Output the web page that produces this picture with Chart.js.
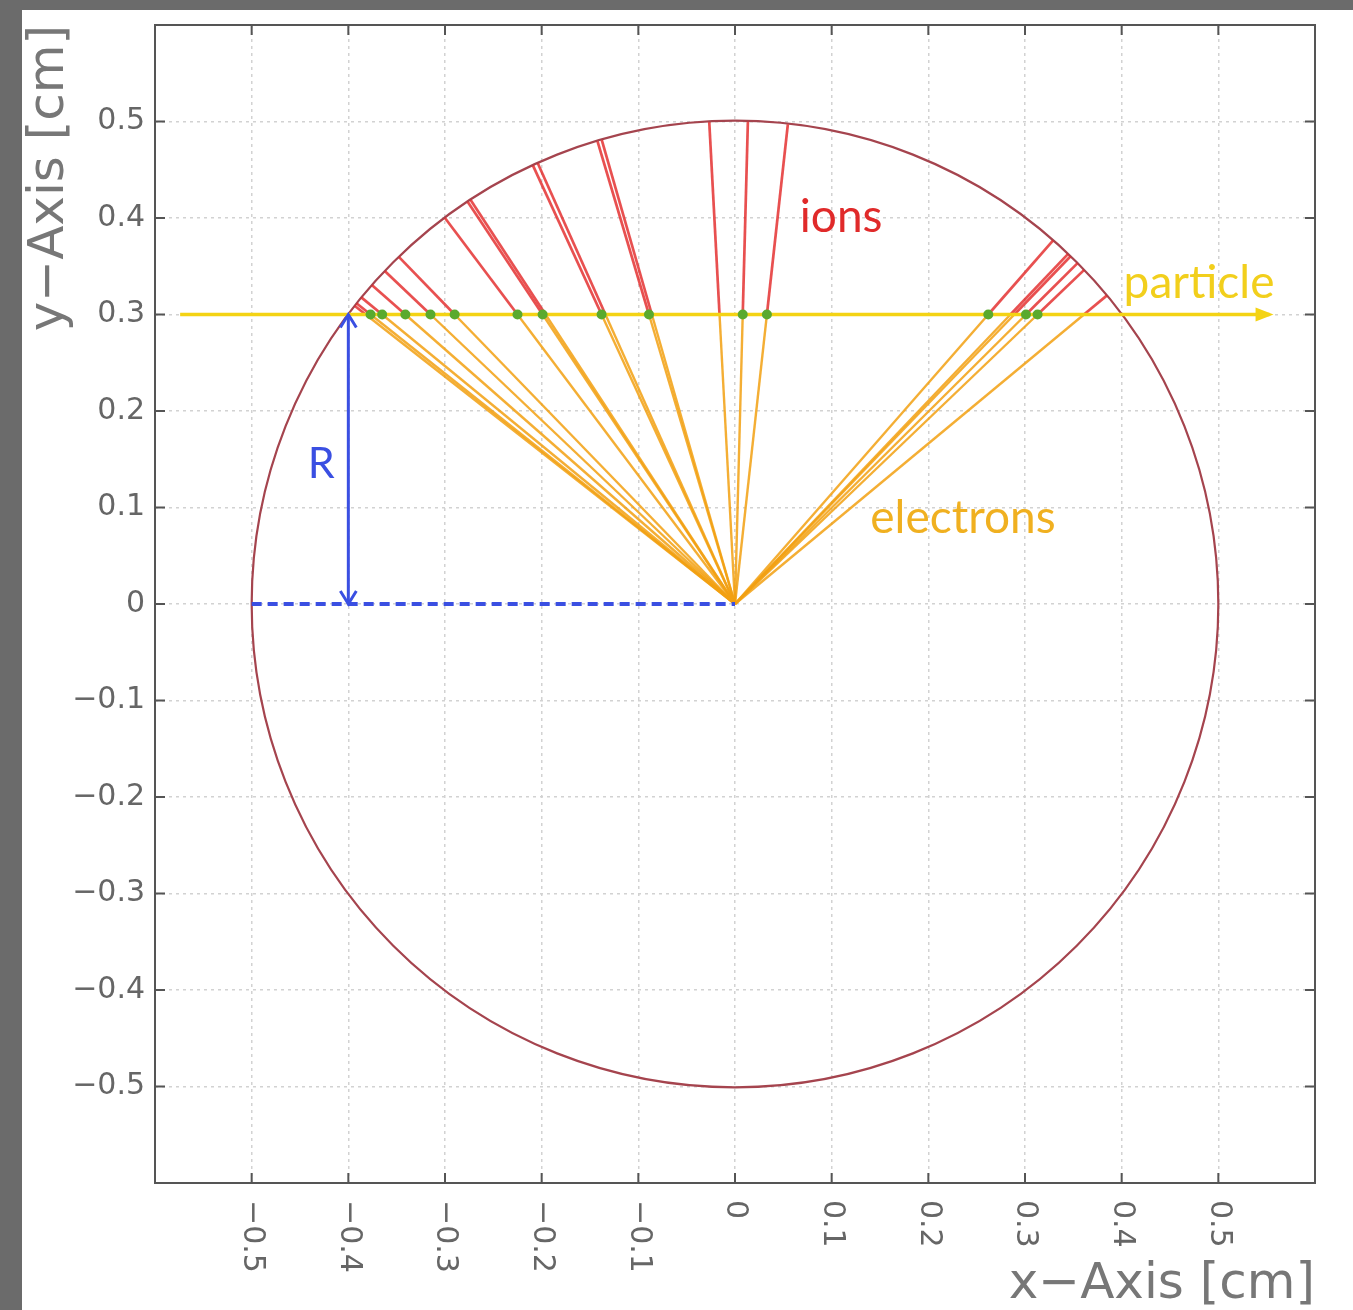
<!DOCTYPE html>
<html>
<head>
<meta charset="utf-8">
<script src="https://cdn.jsdelivr.net/npm/chart.js@4.4.1/dist/chart.umd.min.js"></script>
<style>
  html, body { margin: 0; padding: 0; background: #6b6b6b; }
  #card { position: absolute; left: 22px; top: 10px; width: 1331px; height: 1300px; background: #fff; }
</style>
</head>
<body>
<div id="card"><canvas id="drift" width="1331" height="1300"></canvas></div>
<script>
// hits along the track (x in cm), every hit sends one electron to the centre and one ion to the wall
const hitX = [-0.382, -0.377, -0.365, -0.341, -0.315, -0.290, -0.225, -0.199, -0.196,
              -0.138, -0.134, -0.089, -0.086, -0.016, 0.008, 0.033,
              0.262, 0.285, 0.289, 0.301, 0.313, 0.361];
// clusters marked with a dot
const dotX = [-0.377, -0.365, -0.341, -0.315, -0.290, -0.225, -0.199, -0.138, -0.089,
              0.008, 0.033, 0.262, 0.301, 0.313];
const trackY = 0.3;
const trackX = [-0.574, 0.553];
const wallR = 0.5;          // tube radius [cm]
const rArrowX = -0.4;       // where R is measured
const tickValues = [-0.5, -0.4, -0.3, -0.2, -0.1, 0, 0.1, 0.2, 0.3, 0.4, 0.5];
const tickLabels = ['−0.5', '−0.4', '−0.3', '−0.2', '−0.1', '0', '0.1', '0.2', '0.3', '0.4', '0.5'];

const cElectron = 'rgba(242,160,16,0.85)';
const cIon = 'rgba(226,36,36,0.8)';
const cTrack = '#f4d314';
const cBlue = '#3a4fe2';

const datasets = [];
hitX.forEach(x => {
  datasets.push({ data: [{ x: 0, y: 0 }, { x: x, y: trackY }], borderColor: cElectron,
    borderWidth: 2.4, showLine: true, pointRadius: 0, order: 5 });
  const r = Math.hypot(x, trackY);
  datasets.push({ data: [{ x: x, y: trackY }, { x: x * wallR / r, y: trackY * wallR / r }],
    borderColor: cIon, borderWidth: 2.7, showLine: true, pointRadius: 0, order: 4 });
});
datasets.push({ data: trackX.map(x => ({ x: x, y: trackY })), borderColor: cTrack,
  borderWidth: 3.5, showLine: true, pointRadius: 0, order: 3 });
datasets.push({ data: dotX.map(x => ({ x: x, y: trackY })), backgroundColor: '#5aaa2e',
  borderWidth: 0, pointRadius: 5, showLine: false, order: 1 });
datasets.push({ data: [{ x: -wallR, y: 0 }, { x: 0, y: 0 }], borderColor: cBlue, borderWidth: 4,
  borderDash: [10, 6], showLine: true, pointRadius: 0, order: 2 });
datasets.push({ data: [{ x: rArrowX, y: 0 }, { x: rArrowX, y: trackY }], borderColor: cBlue,
  borderWidth: 3, showLine: true, pointRadius: 0, order: 2 });

function fmt(v) {
  if (Math.abs(v) > 0.55) return '';
  if (Math.abs(v) < 1e-9) return '0';
  return (v < 0 ? '−' : '') + Math.abs(v).toFixed(1);
}

function arrowHead(ctx, x, y, ang, len, wid, fill) {
  ctx.save();
  ctx.translate(x, y);
  ctx.rotate(ang);
  ctx.beginPath();
  ctx.moveTo(-len, -wid);
  ctx.lineTo(0, 0);
  ctx.lineTo(-len, wid);
  if (fill) { ctx.closePath(); ctx.fill(); } else { ctx.stroke(); }
  ctx.restore();
}

const tubePlugin = {
  id: 'tube',
  beforeDatasetsDraw(chart) {
    const { ctx, chartArea: a, scales: { x, y } } = chart;
    const cx = x.getPixelForValue(0), cy = y.getPixelForValue(0);
    const rad = x.getPixelForValue(wallR) - cx;
    ctx.save();
    ctx.beginPath();
    ctx.rect(a.left, a.top, a.right - a.left, a.bottom - a.top);
    ctx.clip();
    ctx.strokeStyle = '#a5444e';
    ctx.lineWidth = 2.2;
    ctx.beginPath();
    ctx.arc(cx, cy, rad, 0, Math.PI * 2);
    ctx.stroke();
    ctx.restore();
  },
  afterDatasetsDraw(chart) {
    const { ctx, scales: { x, y } } = chart;
    // particle direction
    ctx.save();
    ctx.fillStyle = cTrack;
    arrowHead(ctx, x.getPixelForValue(trackX[1]) + 4, y.getPixelForValue(trackY), 0, 18, 7, true);
    // R arrow, both ends
    ctx.strokeStyle = cBlue;
    ctx.lineWidth = 3;
    const ax = x.getPixelForValue(rArrowX);
    arrowHead(ctx, ax, y.getPixelForValue(trackY), -Math.PI / 2, 13, 8, false);
    arrowHead(ctx, ax, y.getPixelForValue(0), Math.PI / 2, 13, 8, false);
    // labels
    ctx.textBaseline = 'alphabetic';
    ctx.textAlign = 'left';
    ctx.font = '46px Lato';
    ctx.fillStyle = '#e02a2a';
    ctx.fillText('ions', x.getPixelForValue(0.067), y.getPixelForValue(0.385));
    ctx.fillStyle = '#f2cf1c';
    ctx.fillText('particle', x.getPixelForValue(0.402), y.getPixelForValue(0.317));
    ctx.fillStyle = '#f0b020';
    ctx.fillText('electrons', x.getPixelForValue(0.140), y.getPixelForValue(0.074));
    ctx.font = '43px Lato';
    ctx.fillStyle = cBlue;
    ctx.fillText('R', x.getPixelForValue(-0.442), y.getPixelForValue(0.131));
    ctx.restore();
  },
  afterDraw(chart) {
    const { ctx, chartArea: a, scales: { x, y } } = chart;
    ctx.save();
    ctx.strokeStyle = '#555';
    ctx.lineWidth = 2;
    ctx.strokeRect(a.left, a.top, a.right - a.left, a.bottom - a.top);
    ctx.beginPath();
    tickValues.forEach(v => {
      const px = x.getPixelForValue(v), py = y.getPixelForValue(v);
      ctx.moveTo(px, a.bottom); ctx.lineTo(px, a.bottom - 10);
      ctx.moveTo(px, a.top); ctx.lineTo(px, a.top + 10);
      ctx.moveTo(a.left, py); ctx.lineTo(a.left + 10, py);
      ctx.moveTo(a.right, py); ctx.lineTo(a.right - 10, py);
    });
    ctx.stroke();
    // x tick labels read downwards
    ctx.fillStyle = '#666';
    ctx.font = '30px "DejaVu Sans"';
    ctx.textAlign = 'left';
    ctx.textBaseline = 'middle';
    tickValues.forEach((v, i) => {
      ctx.save();
      ctx.translate(x.getPixelForValue(v), a.bottom + 17);
      ctx.rotate(Math.PI / 2);
      ctx.fillText(tickLabels[i], 0, 0);
      ctx.restore();
    });
    ctx.restore();
  }
};

new Chart(document.getElementById('drift'), {
  type: 'scatter',
  data: { datasets: datasets },
  plugins: [tubePlugin],
  options: {
    responsive: false,
    animation: false,
    layout: { padding: { top: 15, right: 38, left: 0, bottom: 0 } },
    plugins: { legend: { display: false }, tooltip: { enabled: false } },
    scales: {
      x: {
        type: 'linear', min: -0.6, max: 0.6,
        afterFit: s => { s.height = 127; s.paddingLeft = 0; s.paddingRight = 0; },
        ticks: { display: false, stepSize: 0.1 },
        grid: { color: '#d2d2d2', lineWidth: 1.5, drawTicks: false },
        border: { display: false, dash: [3, 4] },
        title: { display: true, text: 'x−Axis [cm]', align: 'end', color: '#777',
          font: { family: 'DejaVu Sans', size: 50, lineHeight: 1 }, padding: 0 }
      },
      y: {
        type: 'linear', min: -0.6, max: 0.6,
        afterFit: s => { s.width = 133; s.paddingTop = 0; s.paddingBottom = 0; },
        ticks: { stepSize: 0.1, padding: 10, color: '#666', callback: fmt,
          font: { family: 'DejaVu Sans', size: 30 } },
        grid: { color: '#d2d2d2', lineWidth: 1.5, drawTicks: false },
        border: { display: false, dash: [3, 4] },
        title: { display: true, text: 'y−Axis [cm]', align: 'end', color: '#777',
          font: { family: 'DejaVu Sans', size: 50, lineHeight: 1 }, padding: { top: 3, bottom: 0 } }
      }
    }
  }
});
</script>
</body>
</html>
